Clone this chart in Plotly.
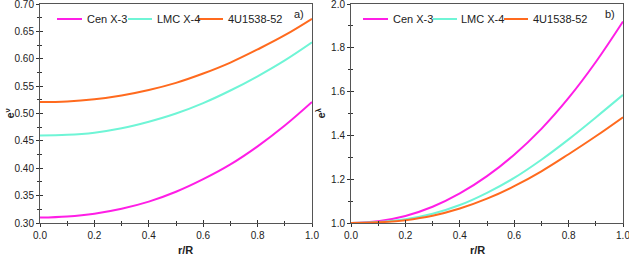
import plotly.graph_objects as go

r = [0.0, 0.1, 0.2, 0.3, 0.4, 0.5, 0.6, 0.7, 0.8, 0.9, 1.0]
names = ["Cen X-3", "LMC X-4", "4U1538-52"]
colors = ["#FF1EE6", "#6FF5D6", "#FF6A1E"]

# panel a) e^nu
enu_cen = [0.310, 0.312, 0.317, 0.326, 0.339, 0.357, 0.380, 0.407, 0.440, 0.478, 0.521]
enu_lmc = [0.460, 0.461, 0.465, 0.473, 0.485, 0.500, 0.519, 0.542, 0.568, 0.597, 0.630]
enu_4u = [0.521, 0.522, 0.526, 0.533, 0.543, 0.556, 0.573, 0.593, 0.617, 0.643, 0.673]

# panel b) e^lambda
elam_cen = [1.000, 1.008, 1.032, 1.074, 1.135, 1.214, 1.312, 1.430, 1.571, 1.735, 1.920]
elam_lmc = [1.000, 1.004, 1.017, 1.042, 1.082, 1.138, 1.206, 1.289, 1.382, 1.482, 1.585]
elam_4u = [1.000, 1.003, 1.013, 1.033, 1.066, 1.111, 1.168, 1.236, 1.314, 1.396, 1.483]

xticks = [0.0, 0.2, 0.4, 0.6, 0.8, 1.0]
xticklabels = ["0.0", "0.2", "0.4", "0.6", "0.8", "1.0"]
ya_ticks = [0.30, 0.35, 0.40, 0.45, 0.50, 0.55, 0.60, 0.65, 0.70]
yb_ticks = [1.0, 1.2, 1.4, 1.6, 1.8, 2.0]

FONT = "Liberation Sans, Arial, sans-serif"
AX = "#555555"
W, H = 629, 255
ML, MR, MT, MB = 40, 6, 4, 32
PW, PH = W - ML - MR, H - MT - MB

fig = go.Figure()
for n, c, ys in zip(names, colors, [enu_cen, enu_lmc, enu_4u]):
    fig.add_trace(go.Scatter(x=r, y=ys, name=n, mode="lines",
                             line=dict(color=c, width=2, shape="spline", smoothing=1.1),
                             xaxis="x", yaxis="y", showlegend=False))
for n, c, ys in zip(names, colors, [elam_cen, elam_lmc, elam_4u]):
    fig.add_trace(go.Scatter(x=r, y=ys, name=n, mode="lines",
                             line=dict(color=c, width=2, shape="spline", smoothing=1.1),
                             xaxis="x2", yaxis="y2", showlegend=False))

def xax(domain, anchor, overlay=None, ticks="outside", labels=True):
    d = dict(domain=domain, anchor=anchor, range=[0, 1], tickvals=xticks, ticktext=xticklabels,
             ticks=ticks, ticklen=3, tickwidth=1, tickcolor="#333", automargin=False,
             ticklabeloverflow="allow",
             minor=dict(dtick=0.1, tick0=0, ticks=ticks, ticklen=2, tickcolor="#333", showgrid=False),
             showline=True, linecolor=AX, linewidth=1, mirror=(overlay is None),
             showgrid=False, zeroline=False, showticklabels=labels,
             tickfont=dict(family=FONT, size=10, color="#222"))
    if overlay:
        d["overlaying"] = overlay
        d["showline"] = False
    return d

def yax(anchor, rng, ticks_list, dt, overlay=None, ticks="outside", labels=True, fmt=".2f"):
    d = dict(anchor=anchor, range=rng, tickvals=ticks_list, tickformat=fmt, domain=[0, 1],
             ticks=ticks, ticklen=3, tickwidth=1, tickcolor="#333", automargin=False,
             ticklabeloverflow="allow",
             minor=dict(dtick=dt, tick0=rng[0], ticks=ticks, ticklen=2, tickcolor="#333", showgrid=False),
             showline=True, linecolor=AX, linewidth=1, mirror=(overlay is None),
             showgrid=False, zeroline=False, showticklabels=labels,
             tickfont=dict(family=FONT, size=10, color="#222"))
    if overlay:
        d["overlaying"] = overlay
        d["showline"] = False
    return d

def px(xp):
    return (xp - ML) / PW

def py(yp):
    return (H - MB - yp) / PH

da = [0.0, px(312)]
db = [px(351), 1.0]

fig.update_layout(
    template="none",
    width=W, height=H,
    margin=dict(l=ML, r=MR, t=MT, b=MB),
    plot_bgcolor="white", paper_bgcolor="white",
    font=dict(family=FONT, size=10, color="#222"),
    xaxis=xax(da, "y"),
    yaxis=yax("x", [0.30, 0.70], ya_ticks, 0.025),
    xaxis2=xax(db, "y2"),
    yaxis2=yax("x2", [1.0, 2.0], yb_ticks, 0.1, fmt=".1f"),
    xaxis3=xax(da, "y", overlay="x", ticks="inside", labels=False),
    yaxis3=yax("x", [0.30, 0.70], ya_ticks, 0.025, overlay="y", ticks="inside", labels=False),
    xaxis4=xax(db, "y2", overlay="x2", ticks="inside", labels=False),
    yaxis4=yax("x2", [1.0, 2.0], yb_ticks, 0.1, overlay="y2", ticks="inside", labels=False, fmt=".1f"),
    showlegend=False,
)

# dummy traces so overlay axes render
fig.add_trace(go.Scatter(x=[None], y=[None], xaxis="x3", yaxis="y3", showlegend=False, hoverinfo="skip"))
fig.add_trace(go.Scatter(x=[None], y=[None], xaxis="x4", yaxis="y4", showlegend=False, hoverinfo="skip"))

# legend keys (layout positions in pixels): line start, line end, text start
legend_a = [(57, 82, 85), (128, 152, 155), (198, 223, 226)]
legend_b = [(363, 388, 391), (433, 457, 459), (504, 528, 531)]
LEG_Y = 19

shapes = []
ann = []
for layout_pos in (legend_a, legend_b):
    for (x0, x1, xt), n, c in zip(layout_pos, names, colors):
        shapes.append(dict(type="line", xref="paper", yref="paper", x0=px(x0), x1=px(x1),
                           y0=py(LEG_Y), y1=py(LEG_Y), line=dict(color=c, width=2)))
        ann.append(dict(text=n, x=px(xt), y=py(LEG_Y), xref="paper", yref="paper",
                        xanchor="left", yanchor="middle", showarrow=False,
                        font=dict(family=FONT, size=11, color="#222")))

ann += [
    dict(text="a)", x=da[1], y=1.0, xref="paper", yref="paper", xanchor="right", yanchor="top",
         xshift=-6, yshift=-2, showarrow=False, font=dict(family=FONT, size=11, color="#222")),
    dict(text="b)", x=1.0, y=1.0, xref="paper", yref="paper", xanchor="right", yanchor="top",
         xshift=-6, yshift=-2, showarrow=False, font=dict(family=FONT, size=11, color="#222")),
    dict(text="<b>r/R</b>", x=(da[0] + da[1]) / 2, y=0, xref="paper", yref="paper", yanchor="top",
         yshift=-19, showarrow=False, font=dict(family=FONT, size=11, color="#222")),
    dict(text="<b>r/R</b>", x=(db[0] + db[1]) / 2, y=0, xref="paper", yref="paper", yanchor="top",
         yshift=-19, showarrow=False, font=dict(family=FONT, size=11, color="#222")),
    dict(text="<b>e</b><sup><b>ν</b></sup>", x=da[0], y=0.5, xref="paper", yref="paper",
         xanchor="center", xshift=-31, textangle=-90, showarrow=False,
         font=dict(family=FONT, size=11, color="#222")),
    dict(text="<b>e</b><sup><b>λ</b></sup>", x=db[0], y=0.5, xref="paper", yref="paper",
         xanchor="center", xshift=-31, textangle=-90, showarrow=False,
         font=dict(family=FONT, size=11, color="#222")),
]
fig.update_layout(annotations=ann, shapes=shapes)

fig.write_html("out.html", config={"displayModeBar": False},
               post_script="document.body.style.margin='0';document.body.style.padding='0';")
